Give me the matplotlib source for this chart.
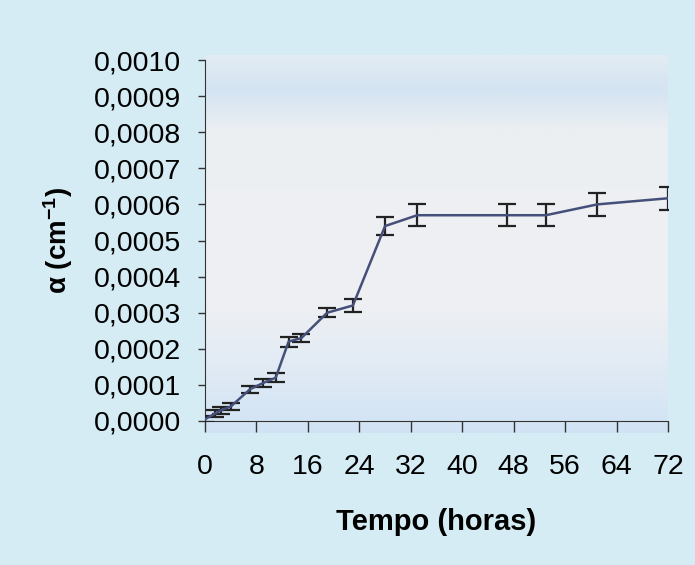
import numpy as np
import matplotlib
matplotlib.use("Agg")
import matplotlib.pyplot as plt
from matplotlib.ticker import FuncFormatter
from matplotlib.colors import LinearSegmentedColormap

plt.rcParams['font.family'] = ['Liberation Sans', 'DejaVu Sans']
plt.rcParams['mathtext.fontset'] = 'custom'
plt.rcParams['mathtext.rm'] = 'Liberation Sans'
plt.rcParams['mathtext.bf'] = 'Liberation Sans:bold'
plt.rcParams['mathtext.it'] = 'Liberation Sans:italic'

tempo = [0, 1.5, 2.5, 4, 7, 9, 11, 13, 15, 19, 23, 28, 33, 47, 53, 61, 72]
alpha = [0.000005, 0.00002, 0.00003, 0.00004, 0.000088, 0.000105, 0.00012,
         0.00022, 0.00023, 0.0003, 0.00032, 0.00054, 0.00057, 0.00057,
         0.00057, 0.0006, 0.000617]
erro = [0.000008, 0.00001, 0.00001, 0.00001, 0.00001, 0.00001, 0.000012,
        0.000014, 0.000012, 0.000012, 0.000017, 0.000025, 0.00003, 0.00003,
        0.00003, 0.000032, 0.000032]
xticks = [0, 8, 16, 24, 32, 40, 48, 56, 64, 72]
yticks = [i * 0.0001 for i in range(11)]

W, H = 695, 565
fig = plt.figure(figsize=(6.95, 5.65), dpi=100)
fig.patch.set_facecolor('#d5ecf4')

# plot-area background panel (extends slightly below the x axis)
bg = fig.add_axes([205 / W, 1 - 433 / H, 463 / W, (433 - 55) / H])
bg.axis('off')
stops = [(0.0, '#e3ecf3'), (0.09, '#d4e4f2'), (0.2, '#eceff2'),
         (0.65, '#eff0f2'), (0.82, '#e2ebf5'), (1.0, '#d0e3f4')]
cmap = LinearSegmentedColormap.from_list('bg', stops)
grad = np.linspace(0, 1, 256).reshape(-1, 1)
bg.imshow(grad, extent=[0, 1, 0, 1], cmap=cmap, aspect='auto', origin='upper')
bg.set_xlim(0, 1)
bg.set_ylim(0, 1)

ax = fig.add_axes([205 / W, 1 - 421 / H, 463 / W, (421 - 60) / H])
ax.patch.set_alpha(0)

ax.errorbar(tempo, alpha, yerr=erro, color='#45507a', lw=1.8,
            ecolor='#222222', elinewidth=1.6, capsize=6.5, capthick=1.6, zorder=3)

ax.set_xlim(0, 72)
ax.set_ylim(0, 0.0010)
ax.set_xticks(xticks)
ax.set_yticks(yticks)
ax.yaxis.set_major_formatter(FuncFormatter(lambda v, p: f"{v:.4f}".replace('.', ',')))

for s in ['top', 'right']:
    ax.spines[s].set_visible(False)
ax.spines['left'].set_color('#333333')
ax.spines['bottom'].set_color('#333333')
ax.tick_params(axis='both', direction='out', width=1, color='#333333',
               labelsize=20.5, labelcolor='black')
ax.tick_params(axis='x', length=8, pad=16)
ax.tick_params(axis='y', length=5, pad=12)

ax.set_xlabel('Tempo (horas)', fontsize=21, fontweight='bold', labelpad=20)
ax.set_ylabel(r'$\mathbf{\alpha\ (cm^{-1})}$', fontsize=20, labelpad=14)

fig.savefig('out.png', dpi=100, facecolor=fig.get_facecolor())
